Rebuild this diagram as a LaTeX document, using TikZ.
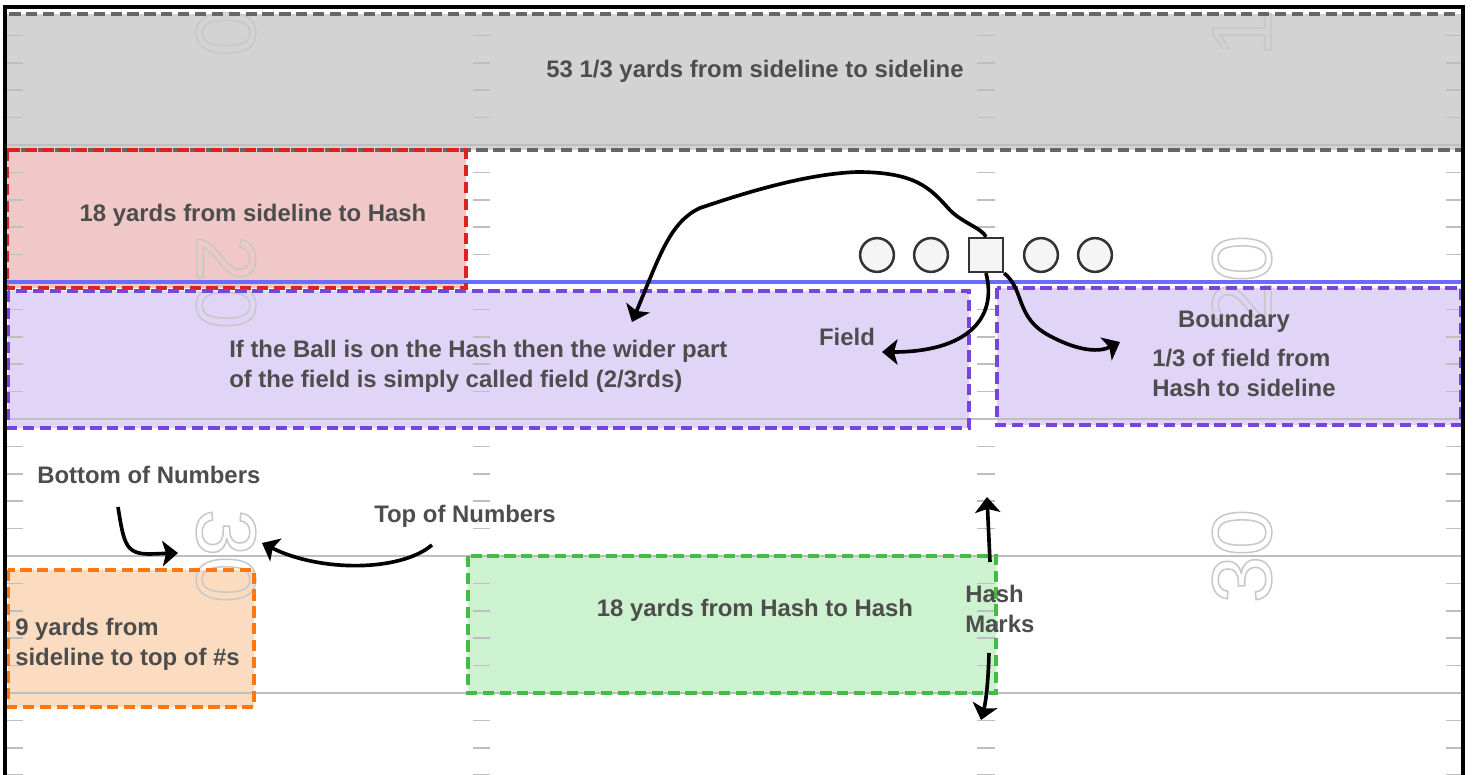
\documentclass[tikz,border=0pt]{standalone}
\usepackage{fontspec}
\setmainfont{Liberation Sans}
\usetikzlibrary{arrows.meta}

\definecolor{ink}{HTML}{4D4D4D}
\definecolor{yardline}{HTML}{BEBEBE}
\definecolor{scrim}{HTML}{6B6BFF}
\definecolor{numgray}{HTML}{C8C8C8}
\definecolor{playerfill}{HTML}{F5F5F5}
\definecolor{bandfill}{HTML}{D3D3D3}
\definecolor{bandedge}{HTML}{666666}
\definecolor{redfill}{HTML}{F0C8C8}
\definecolor{rededge}{HTML}{DD2222}
\definecolor{lilacfill}{HTML}{E0D4F7}
\definecolor{lilacedge}{HTML}{7744DD}
\definecolor{peachfill}{HTML}{FCDCC0}
\definecolor{peachedge}{HTML}{FF7711}
\definecolor{mintfill}{HTML}{CDF2CF}
\definecolor{mintedge}{HTML}{44BB44}

% stroked (hollow) glyphs for the yard numbers
\newcommand\hollow[1]{\special{pdf:literal direct 1 Tr 1.1 w}#1\special{pdf:literal direct 0 Tr}}

\tikzset{
  zone/.style={line width=2.7pt, dash pattern=on 8pt off 4pt},
  lbl/.style={font=\bfseries\fontsize{17}{21.5}\selectfont, text=ink, inner sep=0pt},
  yardnum/.style={font=\fontsize{60}{60}\selectfont, text=numgray, inner sep=0pt},
  player/.style={circle, draw=black!80, fill=playerfill, line width=1.8pt, minimum size=24pt, inner sep=0pt},
  arr/.style={line width=2.6pt, -{Stealth[length=11pt, width=18pt, inset=2.5pt]}}
}

\begin{document}
\begin{tikzpicture}[x=0.025cm, y=-0.025cm]
\useasboundingbox (0,0) rectangle (1476,775);
\fill[white] (0,0) rectangle (1476,775);

% shaded zones
\foreach \xa/\ya/\xb/\yb/\fc in {5/14/1463/150/bandfill, 7/150/466/288/redfill,
    8/291/969/428/lilacfill, 997/288/1461/425/lilacfill,
    8/570/254/707/peachfill, 468/556/996/693/mintfill}
  \fill[\fc] (\xa,\ya) rectangle (\xb,\yb);

% yard lines, line of scrimmage in blue
\foreach \y in {145,419,556,693}
  \draw[yardline, line width=2pt] (5,\y) -- (1463,\y);
\draw[scrim, line width=3.2pt] (5,282) -- (1463,282);

% one yard ticks on the sidelines and on the hashes
\foreach \b in {8,145,282,419,556,693}
  \foreach \k in {1,...,4}
    \foreach \xa/\xb in {7/23,473/490,977/995,1446/1462}
      \draw[yardline, line width=1.2pt] (\xa,{\b+27.4*\k}) -- (\xb,{\b+27.4*\k});

% yard numbers
\node[yardnum, rotate=-90] (tenl) at (226,33) {\hollow{0}};
\node[yardnum, rotate=-90] (twentyl) at (226,282) {\hollow{20}};
\node[yardnum, rotate=-90] (thirtyl) at (226,556) {\hollow{30}};
\node[yardnum, rotate=90] (tenr) at (1242,33) {\hollow{1}};
\node[yardnum, rotate=90] (twentyr) at (1242,282) {\hollow{20}};
\node[yardnum, rotate=90] (thirtyr) at (1242,556) {\hollow{30}};

% zone borders
\foreach \xa/\ya/\xb/\yb/\dc in {5/14/1463/150/bandedge, 7/150/466/288/rededge,
    8/291/969/428/lilacedge, 997/288/1461/425/lilacedge,
    8/570/254/707/peachedge, 468/556/996/693/mintedge}
  \draw[zone, \dc] (\xa,\ya) rectangle (\xb,\yb);

% frame
\draw[line width=3pt] (5,775) -- (5,7) -- (1463,7) -- (1463,775);

% labels
\node[lbl] (sidelines) at (755,71) {53 1/3 yards from sideline to sideline};
\node[lbl] (tohash) at (253,215) {18 yards from sideline to Hash};
\node[lbl, align=left, anchor=west] (widefield) at (229,366)
  {If the Ball is on the Hash then the wider part\\of the field is simply called field (2/3rds)};
\node[lbl] (field) at (847,337) {Field};
\node[lbl] (boundary) at (1234,321) {Boundary};
\node[lbl, align=left, anchor=west] (third) at (1152,373) {1/3 of field from\\Hash to sideline};
\node[lbl, anchor=west] (bottomnums) at (37,475) {Bottom of Numbers};
\node[lbl, anchor=west] (topnums) at (374,516) {Top of Numbers};
\node[lbl, align=left, anchor=west] (ninefrom) at (15,644) {9 yards from\\sideline to top of \#s};
\node[lbl] (hashtohash) at (755,610) {18 yards from Hash to Hash};
\node[lbl, align=left, anchor=west] (hashmarks) at (965,609) {Hash\\Marks};

% offensive line, ball on the hash
\node[player] (lt) at (877,255) {};
\node[player] (lg) at (931,255) {};
\node[player, rectangle] (snap) at (986,255) {};
\node[player] (rg) at (1041,255) {};
\node[player] (rt) at (1095,255) {};

% arrows
\draw[arr] (snap.north) .. controls (982,228) and (960,222) .. (948,208)
  .. controls (930,188) and (915,172) .. (857,172)
  .. controls (800,174) and (730,198) .. (700,208)
  .. controls (670,222) and (660,255) .. (632,322);
\draw[arr] (snap.south) .. controls (998,320) and (965,352) .. (882,352);
\draw[arr] (snap.south east) .. controls (1025,290) and (1015,318) .. (1050,336)
  .. controls (1080,352) and (1100,352) .. (1120,342);

\coordinate (bnstart) at (118,507);
\coordinate (bntip) at (178,553);
\draw[arr] (bnstart) .. controls (124,545) and (126,554) .. (150,554) -- (bntip);
\coordinate (tnstart) at (432,545);
\coordinate (tntip) at (262,543);
\draw[arr] (tnstart) .. controls (400,572) and (320,572) .. (tntip);
\coordinate (hmup) at (990,562);
\coordinate (hmuptip) at (987,497);
\draw[arr] (hmup) -- (hmuptip);
\coordinate (hmdown) at (989,653);
\coordinate (hmdowntip) at (981,720);
\draw[arr] (hmdown) .. controls (988,690) and (985,705) .. (hmdowntip);
\end{tikzpicture}
\end{document}
